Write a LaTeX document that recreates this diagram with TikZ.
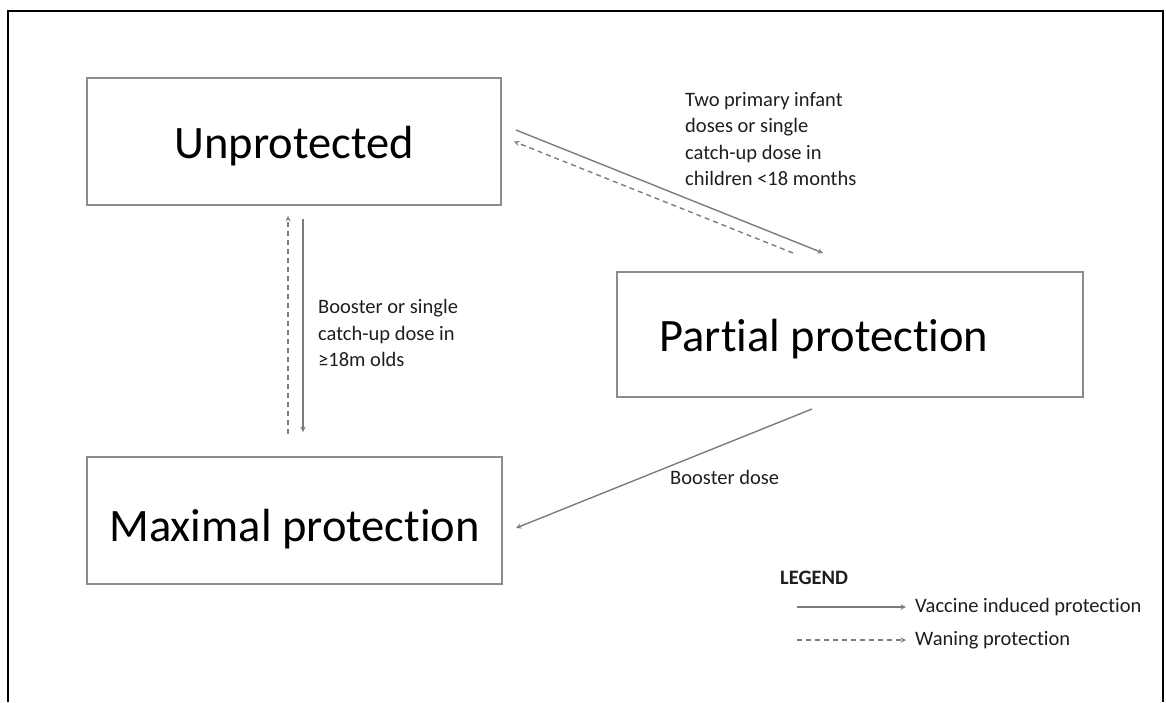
\documentclass[tikz,border=0pt]{standalone}
\usepackage{fontspec}
\setmainfont{Carlito}[Ligatures=CommonOff]
\usepackage{xcolor}
\usepackage{tikz}
\usetikzlibrary{arrows}
\definecolor{boxgray}{RGB}{140,140,140}
\definecolor{linegray}{RGB}{125,125,125}
\definecolor{textdark}{RGB}{30,30,30}
\tikzstyle{state} = [rectangle, minimum width=414pt, minimum height=127pt, text centered, text height=34pt, text depth=1pt, draw=boxgray, line width=2pt, font=\fontsize{46.5}{54}\selectfont, text=black]
\tikzstyle{note} = [align=left, inner sep=0pt, font=\fontsize{20.5}{26.5}\selectfont, text=textdark]
\tikzstyle{vacc} = [line width=1.4pt, ->, >=stealth, color=linegray]
\tikzstyle{waning} = [vacc, dash pattern=on 5pt off 4pt]

\begin{document}
\begin{tikzpicture}[x=1pt, y=-1pt]
        \useasboundingbox (0,0) rectangle (1166,702);
        % Frame
        \draw [line width=2.5pt] (8,702) -- (8,11) -- (1163,11) -- (1163,702);

        % States
        \node (unprot) [state] at (294,141.5) {Unprotected};
        \node (partial) [state, minimum width=466pt, minimum height=125pt] at (850,334.5) {Partial protection\hspace*{52pt}};
        \node (maximal) [state, minimum width=415pt, text height=42pt, text depth=0pt] at (294.5,520.5) {Maximal protection};

        % Labels
        \node (primlbl) [note, anchor=north west] at (685,92) {Two primary infant\\doses or single\\catch-up dose in\\children <18 months};
        \node (boostlbl) [note, anchor=north west] at (318,299.5) {Booster or single\\catch-up dose in\\≥18m olds};
        \node (bdlbl) [note, anchor=base west] at (670,484) {Booster dose};

        % Connections
        \draw [vacc] ([xshift=14pt,yshift=11.5pt]unprot.east) -- ([xshift=-27pt,yshift=18pt]partial.north);
        \draw [waning] ([xshift=-57pt,yshift=18pt]partial.north) -- ([xshift=12pt]unprot.east);
        \draw [vacc] ([xshift=9pt,yshift=-13pt]unprot.south) -- ([xshift=8.5pt,yshift=24pt]maximal.north);
        \draw [waning] ([xshift=-6.5pt,yshift=22pt]maximal.north) -- ([xshift=-6pt,yshift=-10pt]unprot.south);
        \draw [vacc] ([xshift=-38pt,yshift=-11pt]partial.south) -- ([xshift=13pt,yshift=-7.5pt]maximal.east);

        % Legend
        \node (legend) [note, anchor=base west, font=\fontsize{20.5}{24}\selectfont\bfseries] at (780,584) {LEGEND};
        \node (vacctxt) [note, anchor=west] at (915,607) {Vaccine induced protection};
        \node (wanetxt) [note, anchor=west] at (915,640) {Waning protection};
        \coordinate (vstart) at (797,607);
        \coordinate (wstart) at (797,640);
        \draw [vacc] (vstart) -- ([xshift=-9pt]vacctxt.west);
        \draw [waning] (wstart) -- ([xshift=-9pt]wanetxt.west);
    \end{tikzpicture}
\end{document}
